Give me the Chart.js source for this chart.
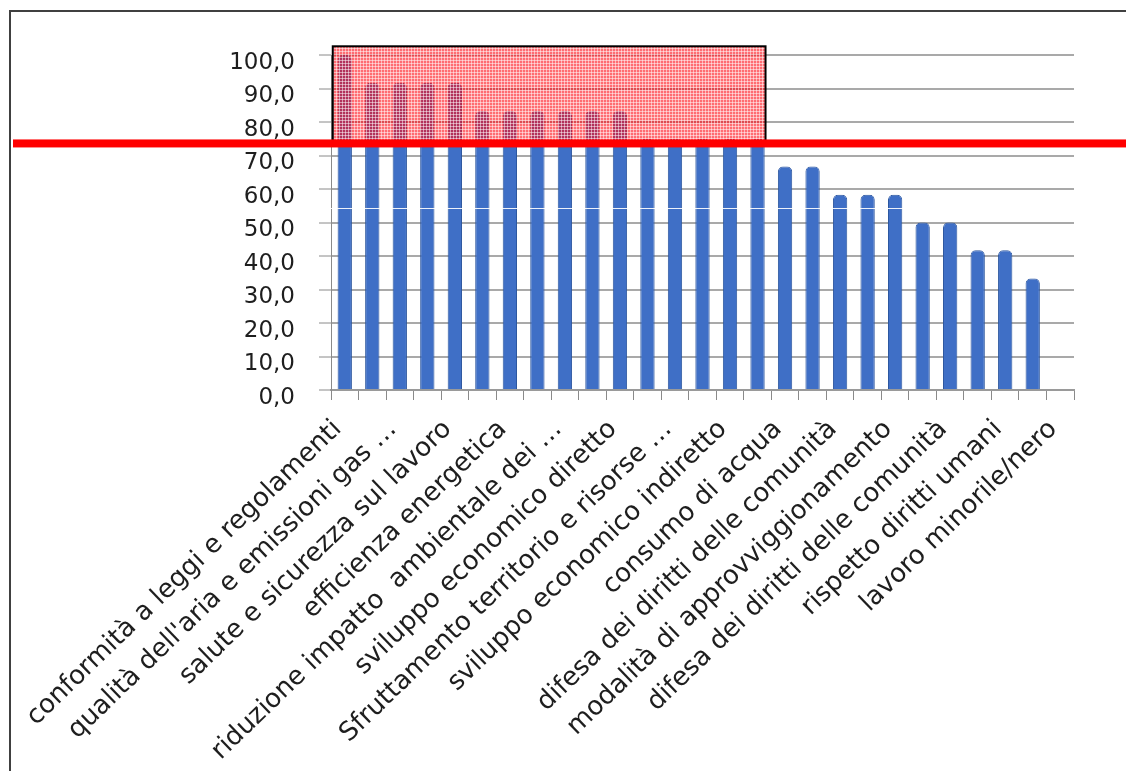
<!DOCTYPE html>
<html>
<head>
<meta charset="utf-8">
<script src="https://cdn.jsdelivr.net/npm/chart.js@4.4.1/dist/chart.umd.min.js"></script>
<style>
  html, body { margin: 0; padding: 0; background: #fff; }
  #wrap { width: 1126px; height: 771px; position: relative; }
</style>
</head>
<body>
<div id="wrap"><canvas id="graph"></canvas></div>
<script>
// categories (only every other label is printed on the axis)
const categories = [
  "conformità a leggi e regolamenti", "",
  "qualità dell'aria e emissioni gas …", "",
  "salute e sicurezza sul lavoro", "",
  "efficienza energetica", "",
  "riduzione impatto  ambientale dei …", "",
  "sviluppo economico diretto", "",
  "Sfruttamento territorio e risorse …", "",
  "sviluppo economico indiretto", "",
  "consumo di acqua", "",
  "difesa dei diritti delle comunità", "",
  "modalità di approvviggionamento", "",
  "difesa dei diritti delle comunità", "",
  "rispetto diritti umani", "",
  "lavoro minorile/nero"
];

// percentages
const values = [
  100.0,
  91.7, 91.7, 91.7, 91.7,
  83.3, 83.3, 83.3, 83.3, 83.3, 83.3,
  75.0, 75.0, 75.0, 75.0, 75.0,
  66.7, 66.7,
  58.3, 58.3, 58.3,
  50.0, 50.0,
  41.7, 41.7,
  33.3,
  0.0
];

const yMin = 0, yMax = 100, yStep = 10;

// highlighted region (in axis units) and the red marker line
const highlight = { firstIndex: 0, lastIndex: 15, top: 102.6, bottom: 73.6 };

function makeHatch() {
  var c = document.createElement('canvas');
  c.width = 3; c.height = 3;
  var g = c.getContext('2d');
  g.fillStyle = 'rgba(255,10,20,0.6)';
  g.fillRect(0, 0, 3, 3);
  g.fillStyle = 'rgba(255,255,255,0.5)';
  g.fillRect(0, 0, 3, 1);
  g.fillRect(0, 0, 1, 3);
  return g.createPattern(c, 'repeat');
}

const overlayPlugin = {
  id: 'overlay',
  afterDraw(chart) {
    var ctx = chart.ctx;
    var xs = chart.scales.x, ys = chart.scales.y;

    // faint white scan line
    ctx.save();
    ctx.fillStyle = 'rgba(255,255,255,0.9)';
    ctx.fillRect(0, Math.round(ys.getPixelForValue(54.3)), xs.getPixelForValue(20) + 9, 1);
    ctx.restore();

    // hatched box
    var left = xs.getPixelForValue(highlight.firstIndex) - 12;
    var right = xs.getPixelForValue(highlight.lastIndex) + 8;
    var top = ys.getPixelForValue(highlight.top);
    var bottom = ys.getPixelForValue(highlight.bottom);
    ctx.save();
    ctx.fillStyle = makeHatch();
    ctx.fillRect(left, top, right - left, bottom - top);
    ctx.strokeStyle = '#000';
    ctx.lineWidth = 2;
    ctx.strokeRect(left, top, right - left, bottom - top);

    // red line
    ctx.fillStyle = '#ff0000';
    ctx.fillRect(13, bottom - 4, chart.width - 13, 8);
    ctx.restore();

    // outer frame (top and left)
    ctx.save();
    ctx.strokeStyle = '#404040';
    ctx.lineWidth = 2;
    ctx.beginPath();
    ctx.moveTo(10, chart.height);
    ctx.lineTo(10, 11);
    ctx.lineTo(chart.width, 11);
    ctx.stroke();
    ctx.restore();
  }
};

window.addEventListener('load', () => {

  var fontFamily = "'DejaVu Sans', sans-serif";

  chart = new Chart("graph", {
    type: "bar",
    data: {
      labels: categories,
      datasets: [{
        data: values,
        backgroundColor: "#3f6fc6",
        borderColor: "#2d579f",
        borderWidth: 1,
        borderRadius: { topLeft: 5, topRight: 5 },
        borderSkipped: 'bottom',
        barPercentage: 0.52,
        categoryPercentage: 1.0
      }]
    },
    options: {
      responsive: true,
      maintainAspectRatio: false,
      animation: false,
      layout: { padding: { left: 0, top: 55, right: 52, bottom: 0 } },
      plugins: {
        legend: { display: false },
        tooltip: { enabled: false }
      },
      scales: {
        x: {
          afterFit: function (scale) { scale.height = 381; },
          grid: {
            offset: true,
            drawOnChartArea: false,
            drawTicks: true,
            tickLength: 10,
            color: '#8a8a8a',
            lineWidth: 1
          },
          border: { display: true, color: '#9a9a9a', width: 2 },
          ticks: {
            autoSkip: false,
            minRotation: 44,
            maxRotation: 44,
            padding: 14,
            labelOffset: -7,
            color: '#1e1e1e',
            font: { family: fontFamily, size: 26 }
          }
        },
        y: {
          min: yMin,
          max: yMax,
          afterFit: function (scale) { scale.width = 331; },
          grid: {
            color: 'rgba(140,140,140,0.75)',
            lineWidth: 2,
            tickLength: 12,
            tickColor: '#8a8a8a',
            tickWidth: 1
          },
          border: { display: true, color: '#8a8a8a', width: 1 },
          ticks: {
            stepSize: yStep,
            padding: 24,
            labelOffset: 8,
            color: '#1e1e1e',
            font: { family: fontFamily, size: 23 },
            callback: function (v) { return v.toFixed(1).replace('.', ','); }
          }
        }
      }
    },
    plugins: [overlayPlugin]
  });

})
</script>
</body>
</html>
